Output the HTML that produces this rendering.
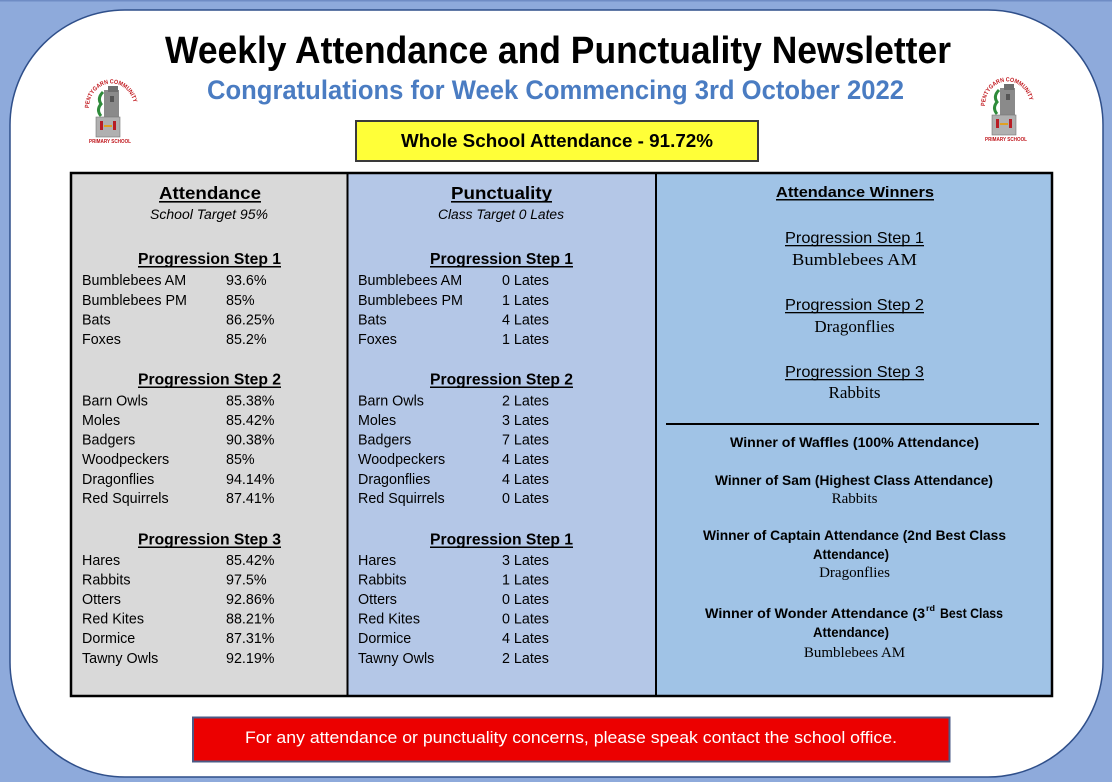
<!DOCTYPE html>
<html><head><meta charset="utf-8"><style>
html,body{margin:0;padding:0;background:#8eaadb;}
svg{display:block;}
.s{font-family:"Liberation Sans",sans-serif;}
.r{font-family:"Liberation Serif",serif;}
</style></head><body>
<svg width="1112" height="782" viewBox="0 0 1112 782" xmlns="http://www.w3.org/2000/svg">
<rect x="0" y="0" width="1112" height="782" fill="#8eaadb"/>
<rect x="0" y="0" width="1112" height="1.5" fill="#6f8cc4"/>
<rect x="10" y="10" width="1093" height="767" rx="115" ry="115" fill="#ffffff" stroke="#2f4f8a" stroke-width="1.5"/>

<!-- Title -->
<text class="s" x="165" y="63" font-size="38" font-weight="bold" fill="#000" textLength="786" lengthAdjust="spacingAndGlyphs">Weekly Attendance and Punctuality Newsletter</text>
<text class="s" x="207" y="99" font-size="27" font-weight="bold" fill="#4a7cc2" textLength="697" lengthAdjust="spacingAndGlyphs">Congratulations for Week Commencing 3rd October 2022</text>

<!-- Logos -->
<g>
<defs><path id="arcL" d="M 89 108 A 22 24 0 0 1 134 108"/></defs>
<text class="s" font-size="6" font-weight="bold" fill="#c0161c"><textPath href="#arcL" startOffset="0" textLength="68" lengthAdjust="spacingAndGlyphs">PENTYGARN COMMUNITY</textPath></text>
<rect x="104" y="90" width="15" height="28" fill="#8a8a8a"/>
<rect x="108" y="86" width="10" height="6" fill="#6e6e6e"/>
<rect x="110" y="96" width="4" height="6" fill="#555"/>
<path d="M103 92 q-6 6 -2 12 q-5 6 0 12" stroke="#2e8b3a" stroke-width="3" fill="none"/>
<rect x="96" y="117" width="24" height="20" fill="#b0b0b0" stroke="#777" stroke-width="0.6"/>
<rect x="100" y="121" width="3" height="9" fill="#b81d24"/>
<rect x="113" y="121" width="3" height="9" fill="#b81d24"/>
<rect x="104" y="125" width="8" height="2" fill="#e0a020"/>
<text class="s" x="110" y="143" font-size="5.5" font-weight="bold" fill="#c0161c" text-anchor="middle" textLength="42" lengthAdjust="spacingAndGlyphs">PRIMARY SCHOOL</text>
</g>
<g>
<defs><path id="arcR" d="M 985 106 A 22 24 0 0 1 1030 106"/></defs>
<text class="s" font-size="6" font-weight="bold" fill="#c0161c"><textPath href="#arcR" startOffset="0" textLength="68" lengthAdjust="spacingAndGlyphs">PENTYGARN COMMUNITY</textPath></text>
<rect x="1000" y="88" width="15" height="28" fill="#8a8a8a"/>
<rect x="1004" y="84" width="10" height="6" fill="#6e6e6e"/>
<rect x="1006" y="94" width="4" height="6" fill="#555"/>
<path d="M999 90 q-6 6 -2 12 q-5 6 0 12" stroke="#2e8b3a" stroke-width="3" fill="none"/>
<rect x="992" y="115" width="24" height="20" fill="#b0b0b0" stroke="#777" stroke-width="0.6"/>
<rect x="996" y="119" width="3" height="9" fill="#b81d24"/>
<rect x="1009" y="119" width="3" height="9" fill="#b81d24"/>
<rect x="1000" y="123" width="8" height="2" fill="#e0a020"/>
<text class="s" x="1006" y="141" font-size="5.5" font-weight="bold" fill="#c0161c" text-anchor="middle" textLength="42" lengthAdjust="spacingAndGlyphs">PRIMARY SCHOOL</text>
</g>

<!-- Yellow box -->
<rect x="356" y="121" width="402" height="40" fill="#ffff38" stroke="#3a3a3a" stroke-width="2"/>
<text class="s" x="401" y="147" font-size="18" font-weight="bold" fill="#000" textLength="312" lengthAdjust="spacingAndGlyphs">Whole School Attendance -  91.72%</text>

<!-- Table -->
<rect x="71" y="173" width="276.5" height="523" fill="#d9d9d9"/>
<rect x="347.5" y="173" width="308.5" height="523" fill="#b4c7e7"/>
<rect x="656" y="173" width="396" height="523" fill="#a0c3e6"/>
<rect x="71" y="173" width="981" height="523" fill="none" stroke="#000" stroke-width="2.5"/>
<line x1="347.5" y1="173" x2="347.5" y2="696" stroke="#000" stroke-width="2"/>
<line x1="656" y1="173" x2="656" y2="696" stroke="#000" stroke-width="2"/>

<!-- Column 1 -->
<text class="s" x="159" y="199" font-size="17.5" font-weight="bold" textLength="102" lengthAdjust="spacingAndGlyphs">Attendance</text>
<rect x="159" y="201" width="102" height="1.6" fill="#000"/>
<text class="s" x="150" y="219" font-size="13.5" font-style="italic" textLength="118" lengthAdjust="spacingAndGlyphs">School Target 95%</text>

<g class="s" font-size="15.5" font-weight="bold">
<text x="138" y="264" textLength="143" lengthAdjust="spacingAndGlyphs">Progression Step 1</text>
<text x="138" y="384.5" textLength="143" lengthAdjust="spacingAndGlyphs">Progression Step 2</text>
<text x="138" y="544.5" textLength="143" lengthAdjust="spacingAndGlyphs">Progression Step 3</text>
</g>
<rect x="138" y="266" width="143" height="1.5" fill="#000"/>
<rect x="138" y="386.5" width="143" height="1.5" fill="#000"/>
<rect x="138" y="546.5" width="143" height="1.5" fill="#000"/>

<g class="s" font-size="14.3" fill="#000">
<text x="82" y="285">Bumblebees AM</text><text x="226" y="285">93.6%</text>
<text x="82" y="305">Bumblebees PM</text><text x="226" y="305">85%</text>
<text x="82" y="324.5">Bats</text><text x="226" y="324.5">86.25%</text>
<text x="82" y="344">Foxes</text><text x="226" y="344">85.2%</text>

<text x="82" y="405.5">Barn Owls</text><text x="226" y="405.5">85.38%</text>
<text x="82" y="425">Moles</text><text x="226" y="425">85.42%</text>
<text x="82" y="444.5">Badgers</text><text x="226" y="444.5">90.38%</text>
<text x="82" y="464">Woodpeckers</text><text x="226" y="464">85%</text>
<text x="82" y="484">Dragonflies</text><text x="226" y="484">94.14%</text>
<text x="82" y="503">Red Squirrels</text><text x="226" y="503">87.41%</text>

<text x="82" y="565">Hares</text><text x="226" y="565">85.42%</text>
<text x="82" y="584.5">Rabbits</text><text x="226" y="584.5">97.5%</text>
<text x="82" y="604">Otters</text><text x="226" y="604">92.86%</text>
<text x="82" y="623.5">Red Kites</text><text x="226" y="623.5">88.21%</text>
<text x="82" y="643">Dormice</text><text x="226" y="643">87.31%</text>
<text x="82" y="663">Tawny Owls</text><text x="226" y="663">92.19%</text>
</g>

<!-- Column 2 -->
<text class="s" x="451" y="199" font-size="17.5" font-weight="bold" textLength="101" lengthAdjust="spacingAndGlyphs">Punctuality</text>
<rect x="451" y="201" width="101" height="1.6" fill="#000"/>
<text class="s" x="438" y="219" font-size="13.5" font-style="italic" textLength="126" lengthAdjust="spacingAndGlyphs">Class Target 0 Lates</text>

<g class="s" font-size="15.5" font-weight="bold">
<text x="430" y="264" textLength="143" lengthAdjust="spacingAndGlyphs">Progression Step 1</text>
<text x="430" y="384.5" textLength="143" lengthAdjust="spacingAndGlyphs">Progression Step 2</text>
<text x="430" y="544.5" textLength="143" lengthAdjust="spacingAndGlyphs">Progression Step 1</text>
</g>
<rect x="430" y="266" width="143" height="1.5" fill="#000"/>
<rect x="430" y="386.5" width="143" height="1.5" fill="#000"/>
<rect x="430" y="546.5" width="143" height="1.5" fill="#000"/>

<g class="s" font-size="14.3" fill="#000">
<text x="358" y="285">Bumblebees AM</text><text x="502" y="285">0 Lates</text>
<text x="358" y="305">Bumblebees PM</text><text x="502" y="305">1 Lates</text>
<text x="358" y="324.5">Bats</text><text x="502" y="324.5">4 Lates</text>
<text x="358" y="344">Foxes</text><text x="502" y="344">1 Lates</text>

<text x="358" y="405.5">Barn Owls</text><text x="502" y="405.5">2 Lates</text>
<text x="358" y="425">Moles</text><text x="502" y="425">3 Lates</text>
<text x="358" y="444.5">Badgers</text><text x="502" y="444.5">7 Lates</text>
<text x="358" y="464">Woodpeckers</text><text x="502" y="464">4 Lates</text>
<text x="358" y="484">Dragonflies</text><text x="502" y="484">4 Lates</text>
<text x="358" y="503">Red Squirrels</text><text x="502" y="503">0 Lates</text>

<text x="358" y="565">Hares</text><text x="502" y="565">3 Lates</text>
<text x="358" y="584.5">Rabbits</text><text x="502" y="584.5">1 Lates</text>
<text x="358" y="604">Otters</text><text x="502" y="604">0 Lates</text>
<text x="358" y="623.5">Red Kites</text><text x="502" y="623.5">0 Lates</text>
<text x="358" y="643">Dormice</text><text x="502" y="643">4 Lates</text>
<text x="358" y="663">Tawny Owls</text><text x="502" y="663">2 Lates</text>
</g>

<!-- Column 3 -->
<text class="s" x="776" y="197" font-size="15" font-weight="bold" textLength="158" lengthAdjust="spacingAndGlyphs">Attendance Winners</text>
<rect x="776" y="199" width="158" height="1.5" fill="#000"/>

<g class="s" font-size="16">
<text x="785" y="243" textLength="139" lengthAdjust="spacingAndGlyphs">Progression Step 1</text>
<text x="785" y="310" textLength="139" lengthAdjust="spacingAndGlyphs">Progression Step 2</text>
<text x="785" y="377" textLength="139" lengthAdjust="spacingAndGlyphs">Progression Step 3</text>
</g>
<rect x="785" y="245" width="139" height="1.3" fill="#000"/>
<rect x="785" y="312" width="139" height="1.3" fill="#000"/>
<rect x="785" y="379" width="139" height="1.3" fill="#000"/>

<g class="r" font-size="17" text-anchor="middle" fill="#000">
<text x="854.5" y="265" textLength="125" lengthAdjust="spacingAndGlyphs">Bumblebees AM</text>
<text x="854.5" y="332">Dragonflies</text>
<text x="854.5" y="398">Rabbits</text>
</g>

<rect x="666" y="423" width="373" height="2" fill="#000"/>

<g class="s" font-size="14" font-weight="bold" fill="#000">
<text x="730" y="447" textLength="249" lengthAdjust="spacingAndGlyphs">Winner of Waffles (100% Attendance)</text>
<text x="715" y="485" textLength="278" lengthAdjust="spacingAndGlyphs">Winner of Sam (Highest Class Attendance)</text>
<text x="703" y="540" textLength="303" lengthAdjust="spacingAndGlyphs">Winner of Captain Attendance (2nd Best Class</text>
<text x="813" y="559" textLength="76" lengthAdjust="spacingAndGlyphs">Attendance)</text>
<text x="705" y="618" textLength="220" lengthAdjust="spacingAndGlyphs">Winner of Wonder Attendance (3</text>
<text x="926" y="611" font-size="8.5" font-weight="bold" textLength="9" lengthAdjust="spacingAndGlyphs">rd</text>
<text x="940" y="618" textLength="63" lengthAdjust="spacingAndGlyphs">Best Class</text>
<text x="813" y="637" textLength="76" lengthAdjust="spacingAndGlyphs">Attendance)</text>
</g>
<g class="r" font-size="15" text-anchor="middle" fill="#000">
<text x="854.5" y="503">Rabbits</text>
<text x="854.5" y="577">Dragonflies</text>
<text x="854.5" y="657">Bumblebees AM</text>
</g>

<!-- Red banner -->
<rect x="193" y="717.5" width="756.5" height="44" fill="#ec0000" stroke="#4a5a86" stroke-width="2"/>
<text class="s" x="245" y="743" font-size="17" fill="#ffffff" textLength="652" lengthAdjust="spacingAndGlyphs">For any attendance or punctuality concerns, please speak contact the school office.</text>
</svg>
</body></html>
